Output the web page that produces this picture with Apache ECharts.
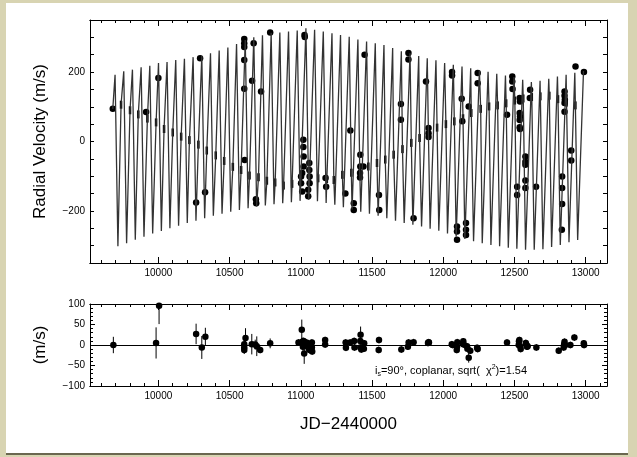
<!DOCTYPE html>
<html>
<head>
<meta charset="utf-8">
<script src="https://cdn.jsdelivr.net/npm/echarts@6/dist/echarts.min.js"></script>
<style>
  body { margin: 0; background: #d8d4b2; }
  #paper { position: absolute; left: 6px; top: 3px; width: 622px; height: 450px; background: #fff; border-bottom: 2px solid #6b6750; }
  #chart { position: absolute; left: 0; top: 0; width: 637px; height: 457px; }
</style>
</head>
<body>
<div id="paper"></div>
<div id="chart"></div>
<script>
// ---- data (JD-2440000, m/s) ----

// model curve: start, one peak / trough / knee per 61 d cycle
const curveStart = [ 9680, 94 ]
const peakT = [ 9696, 9757, 9818, 9879, 9940, 10001, 10061, 10122, 10183, 10244, 10305,
  10366, 10427, 10488, 10549, 10610, 10670, 10731, 10792, 10853, 10914, 10975,
  11036, 11097, 11158, 11219, 11279, 11340, 11401, 11462, 11523, 11584, 11645,
  11706, 11767, 11828, 11888, 11949, 12010, 12071, 12132, 12193, 12254, 12315,
  12376, 12437, 12497, 12558, 12619, 12680, 12741, 12802, 12863, 12924, 12985 ]
const peakV = [ 192, 202, 207, 214, 218, 226, 229, 235, 238, 243, 246,
  254, 262, 271, 281, 292, 300, 306, 313, 314, 317, 320,
  326, 322, 317, 312, 307, 302, 294, 288, 283, 278, 269,
  260, 254, 246, 240, 234, 226, 221, 216, 211, 206, 201,
  195, 190, 186, 178, 171, 175, 181, 187, 192, 198, 203 ]
const troughT = [ 9716, 9777, 9838, 9899, 9960, 10021, 10081, 10142, 10203, 10264, 10325,
  10386, 10447, 10508, 10569, 10630, 10690, 10751, 10812, 10873, 10934, 10995,
  11056, 11117, 11178, 11239, 11299, 11360, 11421, 11482, 11543, 11604, 11665,
  11726, 11787, 11848, 11908, 11969, 12030, 12091, 12152, 12213, 12274, 12335,
  12396, 12457, 12517, 12578, 12639, 12700, 12761, 12822, 12883, 12944 ]
const troughV = [ -302, -293, -283, -274, -265, -258, -250, -243, -235, -228, -221,
  -214, -208, -202, -197, -192, -187, -184, -181, -178, -175, -171,
  -168, -172, -177, -182, -189, -196, -202, -208, -214, -221, -228,
  -235, -240, -245, -251, -257, -265, -274, -281, -287, -293, -298,
  -302, -306, -309, -312, -312, -310, -304, -298, -290, -284 ]
const kneeT = [ 9738, 9801, 9859, 9923, 9984, 10040, 10101, 10160, 10218, 10281, 10340,
  10403, 10462, 10523, 10581, 10640, 10703, 10762, 10820, 10879, 10939, 11000,
  11061, 11122, 11183, 11232, 11292, 11355, 11414, 11474, 11535, 11593, 11652,
  11714, 11776, 11834, 11896, 11957, 12019, 12078, 12139, 12197, 12263, 12322,
  12382, 12442, 12503, 12562, 12622, 12682, 12745, 12806, 12866, 12928 ]
const kneeV = [ 106, 90, 78, 66, 55, 36, 26, 14, 4, -9, -26,
  -40, -56, -73, -82, -98, -103, -113, -118, -127, -122, -116,
  -110, -106, -108, -111, -96, -90, -80, -72, -62, -52, -38,
  -22, -4, 10, 25, 40, 50, 58, 67, 82, 94, 101,
  104, 110, 118, 124, 128, 130, 132, 122, 112, 104 ]

// observed velocities
const obsT = [ 9680, 9914, 10000, 10265, 10293, 10328,
  10603, 10603, 10603, 10603, 10603, 10606,
  10658, 10669, 10685, 10687, 10721, 10785,
  11026, 11028, 11018, 11018, 11020, 11020, 11010, 11002, 11002, 11010,
  11060, 11060, 11062, 11062, 11052, 11052,
  11174, 11178, 11313, 11348, 11372, 11372,
  11418, 11418, 11416, 11416, 11440, 11448, 11549, 11551,
  11703, 11703, 11756, 11756, 11792, 11879, 11897, 11897, 11897,
  12062, 12062, 12097, 12097, 12097, 12130, 12134, 12160, 12160, 12160, 12179, 12242, 12242,
  12448, 12485, 12485, 12487, 12537, 12539, 12537, 12539, 12537, 12537, 12539,
  12577, 12577, 12577, 12577, 12577, 12519, 12519, 12610, 12608, 12652,
  12835, 12835, 12835, 12833, 12852, 12852, 12854, 12852, 12852, 12899, 12899, 12929, 12988 ]
const obsV = [ 94, 85, 183, -176, 240, -146,
  295, 283, 272, 235, 152, -53,
  175, 283, -166, -178, 144, 314,
  307, 301, 5, -16, -43, -72, -91, -101, -120, -144,
  -62, -82, -101, -120, -139, -158,
  -105, -130, -150, 32, -178, -197,
  -38, -72, -91, -104, -72, 250, -154, -197,
  108, 63, 255, 236, -221, 173, 39, 24, 13,
  200, 190, -245, -259, -283, 123, 58, -235, -254, -269, 101, 197, 168,
  77, 187, 173, 151, 125, 115, 82, 72, 62, 41, 36,
  -43, -58, -67, -112, -134, -130, -154, 149, 125, -130,
  -101, -134, -180, -254, 144, 132, 120, 111, 86, -26, -55, 216, 200 ]

// residuals and their errors
const resT = [ 9684, 9984, 10005, 10265, 10305, 10330,
  10603, 10603, 10603, 10612, 10656, 10680, 10691, 10715, 10785,
  10984, 11007, 11010, 11015, 11020, 11024, 11031, 11040, 11048, 11055, 11062,
  11078, 11078, 11080, 11171, 11171, 11315, 11317, 11347, 11375, 11377,
  11418, 11418, 11420, 11425, 11445, 11443, 11549, 11547,
  11706, 11752, 11757, 11792, 11893, 11897, 11900,
  12060, 12066, 12097, 12095, 12099, 12138, 12141, 12144, 12167, 12170, 12179, 12190, 12238, 12242,
  12448, 12530, 12532, 12535, 12540, 12544, 12580, 12585, 12588, 12593, 12654,
  12811, 12846, 12849, 12852, 12857, 12893, 12921, 12987, 12989 ]
const resV = [ 0, 5, 96, 27, -6, 20,
  2, -6, -12, 17, 2, 1, -3, -12, 4,
  6, 37, 8, -4, 10, -21, -2, 6, -2, -8, -12,
  6, -6, -16, 12, 1, 6, -7, 6, 10, -6,
  10, -6, 25, -11, 4, -9, 12, -12,
  -11, -4, 6, 7, 5, 7, 6,
  2, 0, -4, -12, 7, 3, 9, 1, -3, -9, -31, -14, -7, -10,
  6, 0, 9, 12, -3, -10, 5, 0, -4, -3, -6,
  -14, -6, 2, 8, 0, 0, 18, 4, 0 ]
const resE = [ 20, 38, 45, 25, 28, 22,
  10, 10, 10, 24, 25, 12, 24, 8, 12,
  8, 25, 10, 10, 8, 25, 8, 8, 8, 8, 8,
  8, 8, 8, 8, 8, 8, 8, 8, 8, 8,
  8, 8, 20, 8, 8, 8, 8, 8,
  8, 8, 8, 8, 8, 8, 8,
  8, 8, 8, 8, 8, 8, 8, 8, 8, 8, 12, 8, 8, 8,
  8, 8, 8, 8, 8, 8, 8, 8, 8, 8, 8,
  8, 8, 8, 8, 8, 8, 8, 8, 8 ]

// axes
const X_MIN = 9520
const X_MAX = 13150
const majorX = [ 10000, 10500, 11000, 11500, 12000, 12500, 13000 ]
const minorX = [ 9600, 9700, 9800, 9900, 10100, 10200, 10300, 10400, 10600, 10700, 10800, 10900,
  11100, 11200, 11300, 11400, 11600, 11700, 11800, 11900, 12100, 12200, 12300, 12400,
  12600, 12700, 12800, 12900, 13100 ]

const FONT = 'Liberation Sans, Arial, sans-serif'
const minus = v => String( v ).replace( '-', '\u2212' )

const curve = [ curveStart ]
peakT.forEach( ( t, i ) => curve.push( [ t, peakV[ i ] ] ) )
troughT.forEach( ( t, i ) => curve.push( [ t, troughV[ i ] ] ) )
kneeT.forEach( ( t, i ) => curve.push( [ t, kneeV[ i ] ] ) )
curve.sort( ( a, b ) => a[ 0 ] - b[ 0 ] )

const knees = kneeT.map( ( t, i ) => [ t, kneeV[ i ] ] )
const obs = obsT.map( ( t, i ) => [ t, obsV[ i ] ] )
const res = resT.map( ( t, i ) => [ t, resV[ i ], resE[ i ] ] )

const axisLine = { show : true, onZero : false, lineStyle : { color : '#000', width : 1 }}

// four x axes per panel: bottom major/minor, top major/minor
const xAxes = []
;[ 0, 1 ].forEach( g => {
  ;[ 'bottom', 'top' ].forEach( pos => {
    xAxes.push( {
      type : 'value', gridIndex : g, position : pos, min : X_MIN, max : X_MAX,
      axisLine,
      axisTick : { inside : true, length : 6, customValues : majorX, lineStyle : { color : '#000' }},
      axisLabel : {
        show : pos === 'bottom', customValues : majorX, margin : 5,
        formatter : v => String( v ),
        fontSize : 10, fontFamily : FONT, color : '#000'
      },
      splitLine : { show : false },
      name : ( g === 1 && pos === 'bottom' ) ? 'JD\u22122440000' : '',
      nameLocation : 'middle', nameGap : 30,
      nameTextStyle : { fontSize : 17, fontFamily : FONT, color : '#000' }
    } )
    xAxes.push( {
      type : 'value', gridIndex : g, position : pos, min : X_MIN, max : X_MAX,
      axisLine,
      axisTick : { inside : true, length : 3, customValues : minorX, lineStyle : { color : '#000' }},
      axisLabel : { show : false },
      splitLine : { show : false }
    } )
  } )
} )

const yAxes = [
  {
    type : 'value', gridIndex : 0, position : 'left', min : -350, max : 350, interval : 50,
    axisLine,
    axisTick : { inside : true, length : 4, lineStyle : { color : '#000' }},
    axisLabel : {
      formatter : v => ( v % 200 === 0 ? minus( v ) : '' ),
      margin : 5, fontSize : 10, fontFamily : FONT, color : '#000'
    },
    splitLine : { show : false },
    name : 'Radial Velocity (m/s)', nameLocation : 'middle', nameGap : 41,
    nameTextStyle : { fontSize : 17, fontFamily : FONT, color : '#000' }
  },
  {
    type : 'value', gridIndex : 0, position : 'right', min : -350, max : 350, interval : 50,
    axisLine,
    axisTick : { inside : true, length : 4, lineStyle : { color : '#000' }},
    axisLabel : { show : false },
    splitLine : { show : false }
  },
  {
    type : 'value', gridIndex : 1, position : 'left', min : -100, max : 100, interval : 50,
    axisLine,
    axisTick : { inside : true, length : 5, lineStyle : { color : '#000' }},
    minorTick : { show : true, splitNumber : 5, length : 3, lineStyle : { color : '#000' }},
    axisLabel : {
      formatter : v => minus( v ),
      margin : 5, fontSize : 10, fontFamily : FONT, color : '#000'
    },
    splitLine : { show : false },
    name : '(m/s)', nameLocation : 'middle', nameGap : 41,
    nameTextStyle : { fontSize : 17, fontFamily : FONT, color : '#000' }
  },
  {
    type : 'value', gridIndex : 1, position : 'right', min : -100, max : 100, interval : 50,
    axisLine,
    axisTick : { inside : true, length : 5, lineStyle : { color : '#000' }},
    minorTick : { show : true, splitNumber : 5, length : 3, lineStyle : { color : '#000' }},
    axisLabel : { show : false },
    splitLine : { show : false }
  }
]

const chart = echarts.init( document.getElementById( 'chart' ), null, { renderer : 'canvas' } )

chart.setOption( {
  animation : false,
  backgroundColor : 'transparent',
  grid : [
    { left : 90, top : 20, width : 517, height : 243 },
    { left : 90, top : 304, width : 517, height : 82 }
  ],
  xAxis : xAxes,
  yAxis : yAxes,
  graphic : [
    {
      type : 'text', left : 375, top : 364,
      style : {
        text : '{n|i}{sub|s}{n|=90\u00b0, coplanar, sqrt(  \u03c7}{sup|2}{n|)=1.54}',
        fill : '#000',
        rich : {
          n : { fontSize : 11, fontFamily : FONT, fill : '#000' },
          sub : { fontSize : 7, fontFamily : FONT, fill : '#000', padding : [ 7, 0, 0, 0 ] },
          sup : { fontSize : 7, fontFamily : FONT, fill : '#000', padding : [ 0, 0, 7, 0 ] }
        }
      }
    }
  ],
  series : [
    {
      name : 'model', type : 'line', xAxisIndex : 0, yAxisIndex : 0,
      data : curve, showSymbol : false, symbol : 'none',
      lineStyle : { color : '#333', width : 1.3 },
      clip : true, silent : true
    },
    {
      name : 'knee', type : 'scatter', xAxisIndex : 0, yAxisIndex : 0,
      data : knees, symbol : 'rect', symbolSize : [ 2.5, 8 ],
      itemStyle : { color : '#000', opacity : 1 }, silent : true
    },
    {
      name : 'obs', type : 'scatter', xAxisIndex : 0, yAxisIndex : 0,
      data : obs, symbol : 'circle', symbolSize : 6.5,
      itemStyle : { color : '#000', opacity : 1 }, silent : true
    },
    {
      name : 'resErr', type : 'custom', xAxisIndex : 4, yAxisIndex : 2,
      data : res, clip : true, silent : true,
      renderItem : ( params, api ) => {
        const t = api.value( 0 )
        const v = api.value( 1 )
        const e = api.value( 2 )
        const p1 = api.coord( [ t, v - e ] )
        const p2 = api.coord( [ t, v + e ] )
        return {
          type : 'line',
          shape : { x1 : p1[ 0 ], y1 : p1[ 1 ], x2 : p2[ 0 ], y2 : p2[ 1 ] },
          style : { stroke : '#000', lineWidth : 1 }
        }
      }
    },
    {
      name : 'res', type : 'scatter', xAxisIndex : 4, yAxisIndex : 2,
      data : res.map( d => [ d[ 0 ], d[ 1 ] ] ), symbol : 'circle', symbolSize : 6.5,
      itemStyle : { color : '#000', opacity : 1 }, silent : true,
      markLine : {
        silent : true, symbol : 'none', label : { show : false },
        lineStyle : { color : '#000', width : 1, type : 'solid' },
        data : [ { yAxis : 0 } ]
      }
    }
  ]
} )
</script>
</body>
</html>
